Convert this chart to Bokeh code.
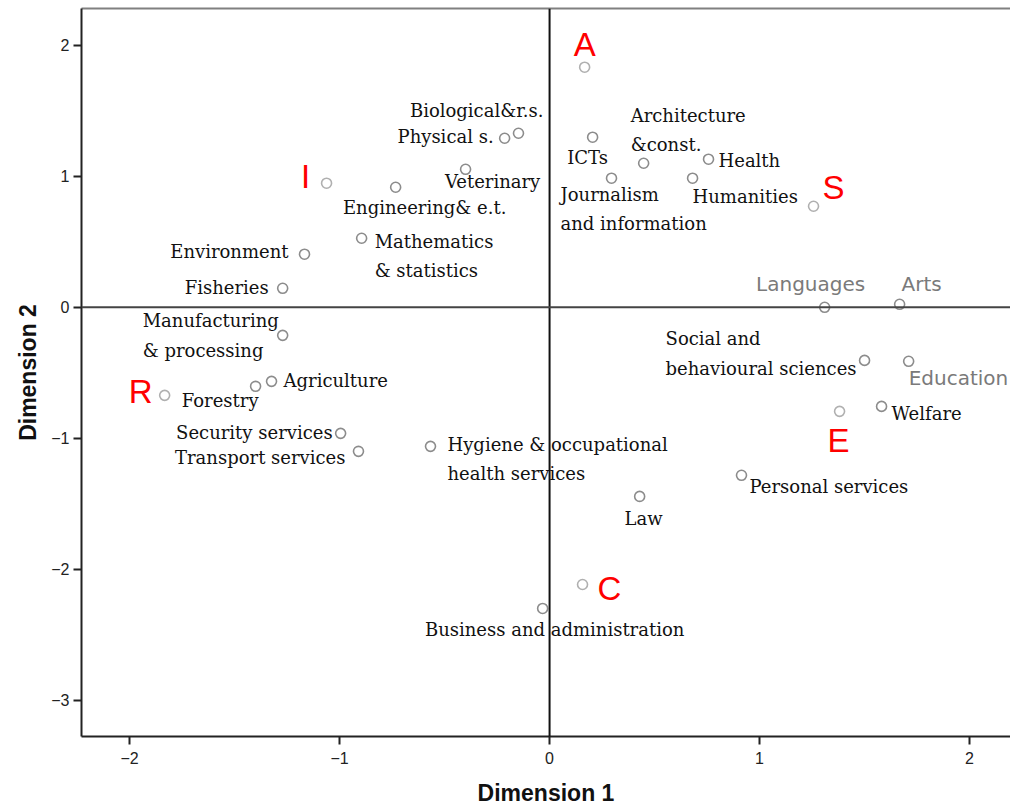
from bokeh.plotting import figure
from bokeh.models import Range1d, Span, LinearAxis, FixedTicker, ColumnDataSource
from bokeh.core.properties import value
from bokeh.embed import file_html
from bokeh.resources import INLINE

# ---- data: study fields ----
fields = ["Biological&r.s.", "Physical s.", "ICTs", "Veterinary",
          "Architecture\n&const.", "Health", "Journalism\nand information",
          "Humanities", "Engineering& e.t.", "Mathematics\n& statistics",
          "Environment", "Fisheries", "Manufacturing\n& processing",
          "Social and\nbehavioural sciences", "Agriculture", "Forestry",
          "Welfare", "Security services", "Transport services",
          "Hygiene & occupational\nhealth services", "Personal services",
          "Law", "Business and administration"]
field_dim1 = [-0.148, -0.214, 0.205, -0.400, 0.448, 0.757, 0.295, 0.681,
              -0.733, -0.895, -1.167, -1.271, -1.271, 1.500, -1.324, -1.400,
              1.581, -0.995, -0.910, -0.567, 0.914, 0.429, -0.033]
field_dim2 = [1.328, 1.290, 1.298, 1.053, 1.099, 1.130, 0.985, 0.985,
              0.916, 0.527, 0.405, 0.145, -0.214, -0.405, -0.565, -0.603,
              -0.756, -0.962, -1.099, -1.061, -1.282, -1.443, -2.298]

# gray-labelled fields
gray_fields = ["Languages", "Arts", "Education"]
gray_dim1 = [1.310, 1.667, 1.710]
gray_dim2 = [0.000, 0.023, -0.412]

# RIASEC types
types = ["R", "I", "A", "S", "E", "C"]
type_dim1 = [-1.833, -1.062, 0.167, 1.257, 1.381, 0.157]
type_dim2 = [-0.672, 0.947, 1.832, 0.771, -0.794, -2.115]

x_ticks = [-2, -1, 0, 1, 2]
y_ticks = [-3, -2, -1, 0, 1, 2]

# ---- label layout (pixels) ----
field_align = ["right", "right", "center", "center", "left", "left", "left",
               "left", "center", "left", "right", "right", "left", "left",
               "left", "right", "left", "right", "right", "left", "left",
               "center", "center"]
field_dx = [25, -11, -5, 27, -13, 10, -51, 0, 29, 13, -16, -14, -140, -199,
            12, 3, 10, -8, -13, 17, 8, 4, 12]
field_dy = [-23, -2, 20, 12, -33.5, 1, 31, 18, 20, 17.5, -3, -1, 0, -7,
            -1, 14, 7, -1, 6, 12.5, 11, 22, 21]
gray_align = ["center", "left", "left"]
gray_dx = [-14, 2, 0]
gray_dy = [-23, -20, 17]
type_dx = [-24, -21, 0, 20, -1, 27]
type_dy = [-4, -7, -23, -19, 29, 4]

p = figure(width=1010, height=809, output_backend="svg", toolbar_location=None,
           x_range=Range1d(-2.229, 2.195), y_range=Range1d(-3.275, 2.28),
           min_border_left=81, min_border_right=0, min_border_top=8,
           min_border_bottom=73)
p.outline_line_color = None
p.grid.visible = False
p.background_fill_color = "white"
p.border_fill_color = "white"

for ax in (p.xaxis[0], p.yaxis[0]):
    ax.axis_line_color = "#222222"
    ax.axis_line_width = 2
    ax.major_tick_line_color = "#222222"
    ax.major_tick_line_width = 2
    ax.major_tick_out = 8
    ax.major_tick_in = 0
    ax.minor_tick_line_color = None
    ax.major_label_text_font = "Liberation Sans"
    ax.major_label_text_font_size = "16px"
    ax.major_label_text_color = "#222222"
    ax.axis_label_text_font = "Liberation Sans"
    ax.axis_label_text_font_style = "bold"
    ax.axis_label_text_font_size = "23px"
    ax.axis_label_text_color = "#111111"

p.xaxis.ticker = FixedTicker(ticks=x_ticks)
p.yaxis.ticker = FixedTicker(ticks=y_ticks)
p.xaxis.axis_label = "Dimension 1"
p.yaxis.axis_label = "Dimension 2"
p.xaxis.major_label_standoff = 7
p.yaxis.major_label_standoff = 4
p.xaxis.axis_label_standoff = 13
p.yaxis.axis_label_standoff = 7

top = LinearAxis(ticker=FixedTicker(ticks=[]), axis_line_color="#808080",
                 axis_line_width=2, major_tick_line_color=None,
                 minor_tick_line_color=None, major_label_text_font_size="0px")
p.add_layout(top, "above")

p.add_layout(Span(location=0, dimension="height", line_color="#111111", line_width=2))
p.add_layout(Span(location=0, dimension="width", line_color="#444444", line_width=2))

fsrc = ColumnDataSource(dict(x=field_dim1, y=field_dim2, t=fields,
                             al=field_align, dx=field_dx, dy=field_dy))
gsrc = ColumnDataSource(dict(x=gray_dim1, y=gray_dim2, t=gray_fields,
                             al=gray_align, dx=gray_dx, dy=gray_dy))
tsrc = ColumnDataSource(dict(x=type_dim1, y=type_dim2, t=types,
                             dx=type_dx, dy=type_dy))

p.scatter("x", "y", source=fsrc, size=10, fill_color=None,
          line_color="#8c8c8c", line_width=1.6)
p.scatter("x", "y", source=gsrc, size=10, fill_color=None,
          line_color="#8c8c8c", line_width=1.6)
p.scatter("x", "y", source=tsrc, size=10, fill_color=None,
          line_color="#b0b0b0", line_width=1.6)

p.text("x", "y", text="t", source=fsrc, x_offset="dx", y_offset="dy",
       text_align="al", text_baseline="middle",
       text_font=value("DejaVu Serif"), text_font_size="18px",
       text_color="#111111", text_line_height=1.4)
p.text("x", "y", text="t", source=gsrc, x_offset="dx", y_offset="dy",
       text_align="al", text_baseline="middle",
       text_font=value("DejaVu Sans"), text_font_size="20px",
       text_color="#7a7a7a")
p.text("x", "y", text="t", source=tsrc, x_offset="dx", y_offset="dy",
       text_align="center", text_baseline="middle",
       text_font=value("Liberation Sans"), text_font_size="33px",
       text_color="#ff0000")

open("out.html", "w").write(file_html(p, INLINE))
